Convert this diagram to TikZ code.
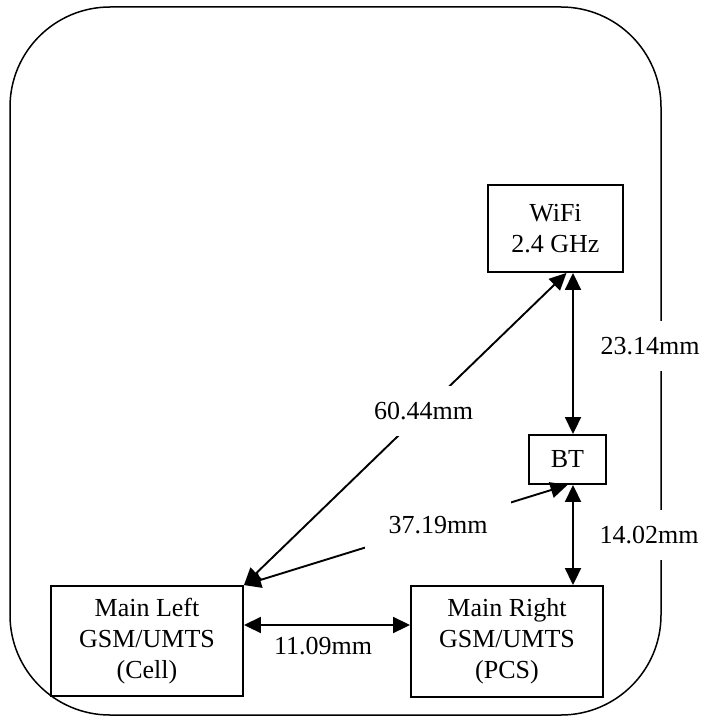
\documentclass[tikz,border=0pt]{standalone}
\usepackage{fontspec}
\setmainfont{Liberation Serif}
\usetikzlibrary{arrows.meta,calc}
\begin{document}
\begin{tikzpicture}[x=1pt,y=-1pt,
  txt/.style={font=\fontsize{26}{31}\selectfont},
  box/.style={txt, draw, line width=1.9pt, inner sep=0pt, align=center},
  dbl/.style={line width=1.9pt, {Triangle[length=17pt,width=16pt]}-{Triangle[length=17pt,width=16pt]}},
  lbl/.style={txt, fill=white, inner sep=0pt, minimum width=146pt, minimum height=50pt},
  dimlbl/.style={txt, fill=white, inner xsep=3pt, inner ysep=0pt, minimum height=50pt},
  ]
\useasboundingbox (0,0) rectangle (706,717);
\draw[line width=1.5pt, rounded corners=100pt] (10,7) rectangle (661,715);
\node[box, minimum width=135pt, minimum height=87pt] (wifi) at (555.5,228.5) {WiFi\\2.4 GHz};
\node[box, minimum width=77pt, minimum height=49pt] (bt) at (567.5,459.5) {BT};
\node[box, minimum width=192pt, minimum height=110pt] (ml) at (147,641) {Main Left\\GSM/UMTS\\(Cell)};
\node[box, minimum width=192pt, minimum height=111pt] (mr) at (507,641.5) {Main Right\\GSM/UMTS\\(PCS)};
\coordinate (vx) at (573,0);
\coordinate (hy) at (0,625);
\draw[dbl] (wifi.south -| vx) -- (bt.north -| vx);
\draw[dbl] (bt.south -| vx) -- (mr.north -| vx);
\draw[dbl] (ml.east |- hy) -- (mr.west |- hy);
\draw[dbl] (ml.north east) -- node[lbl, pos=0.557] {60.44mm} ($(wifi.south)+(11,0)$);
\draw[dbl] (ml.north east) -- node[lbl, pos=0.6] {37.19mm} (bt.south);
\node[txt] (d11) at (323,646) {11.09mm};
\node[dimlbl] (d23) at (650,346) {23.14mm};
\node[dimlbl] (d14) at (649,535) {14.02mm};
\end{tikzpicture}
\end{document}
